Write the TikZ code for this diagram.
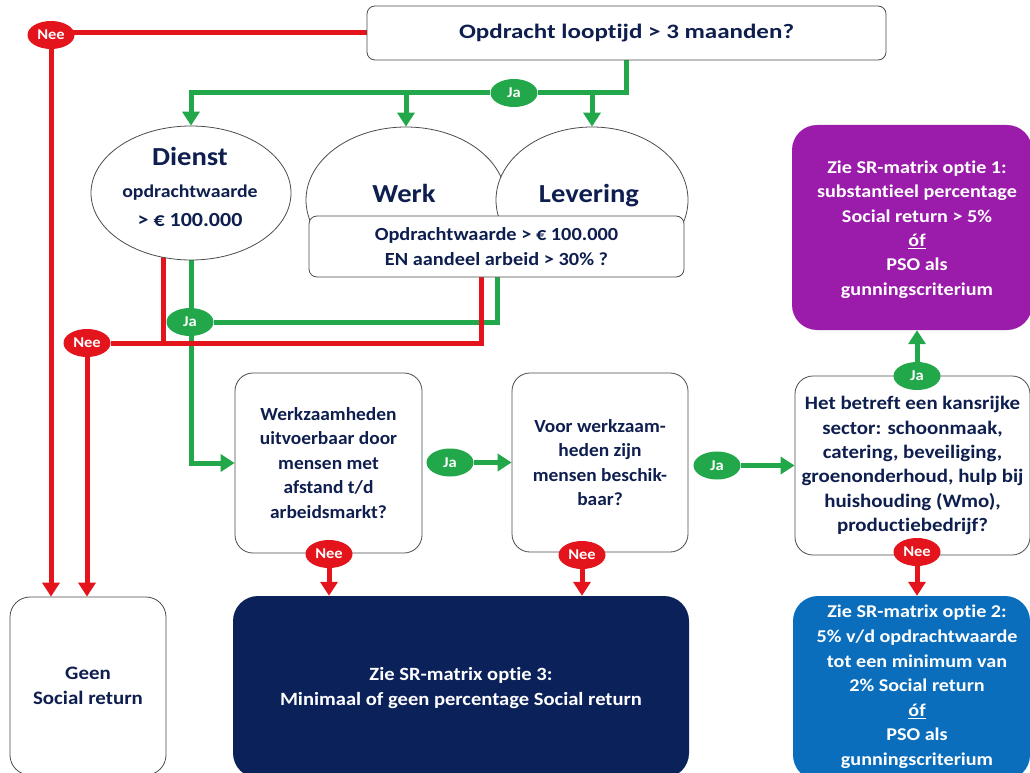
\documentclass[tikz,border=0pt]{standalone}
\usepackage{fontspec}
\setmainfont{Carlito}[FakeStretch=1.1,Ligatures=NoCommon]
\newfontfamily\fA{Carlito}[FakeStretch=1.05,Ligatures=NoCommon]
\newfontfamily\fB{Carlito}[FakeStretch=1.1,Ligatures=NoCommon]
\newfontfamily\fC{Carlito}[FakeStretch=1.12,Ligatures=NoCommon]
\newfontfamily\fD{Carlito}[FakeStretch=1.22,Ligatures=NoCommon]
\usetikzlibrary{arrows.meta,shapes.geometric}
\pgfdeclarelayer{back}
\pgfdeclarelayer{bg}
\pgfsetlayers{back,bg,main}
\definecolor{navytxt}{HTML}{0E1E4E}
\definecolor{navybox}{HTML}{0B2159}
\definecolor{gr}{HTML}{22A84A}
\definecolor{rd}{HTML}{E3141B}
\definecolor{purp}{HTML}{9B1BAA}
\definecolor{blu}{HTML}{0A6EBD}
\begin{document}
\begin{tikzpicture}[x=1pt,y=-1pt,
  >={Triangle[width=17pt,length=14pt]},
  box/.style={draw=black!70, line width=0.8pt, fill=white, rounded corners=#1, align=center, text=navytxt, inner sep=0pt, font=\fB\bfseries\fontsize{19}{24.5}\selectfont},
  box/.default=18pt,
  fbox/.style={fill=#1, rounded corners=25pt, inner sep=0pt},
  ell/.style={ellipse, draw=black!70, line width=0.8pt, fill=white, inner sep=0pt},
  txt/.style={text=navytxt, align=center, inner sep=0pt},
  wtxt/.style={text=white, align=center, inner sep=0pt},
  ja/.style={ellipse, fill=gr, text=white, minimum width=47pt, minimum height=28pt, inner sep=0pt, font=\fB\bfseries\fontsize{15}{15}\selectfont},
  nee/.style={ja, fill=rd},
  gl/.style={draw=gr, line width=5pt},
  rl/.style={draw=rd, line width=5pt}]
\clip (0,0) rectangle (1030,773);
\begin{pgfonlayer}{back}
\fill[white] (0,0) rectangle (1030,773);
\end{pgfonlayer}

% boxes
\node[box=8pt, minimum width=519pt, minimum height=54pt, font=\fD\bfseries\fontsize{20.5}{24}\selectfont] (top) at (626.5,33) {Opdracht looptijd > 3 maanden?};

\node[ell, minimum width=200pt, minimum height=134pt] (dienst) at (191,193) {};
\node[txt, font=\fB\bfseries\fontsize{26}{26}\selectfont] (dienstT) at (190,156) {Dienst};
\node[txt, font=\fB\bfseries\fontsize{18}{18}\selectfont] (dienstW) at (190,193) {opdrachtwaarde};
\node[txt, font=\fB\bfseries\fontsize{20}{20}\selectfont] (dienstV) at (190,220) {> € 100.000};

\node[ell, minimum width=200pt, minimum height=146pt] (werk) at (406,200) {};
\node[ell, minimum width=192pt, minimum height=146pt] (lev) at (592,200) {};
\node[txt, anchor=base, font=\fB\bfseries\fontsize{26}{26}\selectfont] (werkT) at (404,202) {Werk};
\node[txt, anchor=base, font=\fB\bfseries\fontsize{26}{26}\selectfont] (levT) at (589,202) {Levering};

\node[box=8pt, minimum width=375pt, minimum height=61pt, font=\fB\bfseries\fontsize{18.5}{25}\selectfont] (opd) at (496.5,246.5) {Opdrachtwaarde > € 100.000\\EN aandeel arbeid > 30\% ?};

\node[box, minimum width=187pt, minimum height=180pt, font=\fA\bfseries\fontsize{18.5}{24.5}\selectfont] (werkz) at (328.5,463) {Werkzaamheden\\uitvoerbaar door\\mensen met\\afstand t/d\\arbeidsmarkt?};
\node[box, minimum width=176pt, minimum height=179pt, font=\fA\bfseries\fontsize{18.5}{24.5}\selectfont] (voor) at (600,462.5) {Voor werkzaam-\\heden zijn\\mensen beschik-\\baar?};
\node[box, minimum width=235pt, minimum height=179pt, font=\fB\bfseries\fontsize{19}{24.3}\selectfont] (kans) at (912.5,465.5) {Het betreft een kansrijke\\sector: schoonmaak,\\catering, beveiliging,\\groenonderhoud, hulp bij\\huishouding (Wmo),\\productiebedrijf?};

\node[fbox=purp, minimum width=240pt, minimum height=205pt] (purple) at (912,227.5) {};
\node[wtxt, font=\fC\bfseries\fontsize{18}{24.3}\selectfont] (purpleT) at (917,229.5) {Zie SR-matrix optie 1:\\substantieel percentage\\Social return > 5\%\\\underline{óf}\\PSO als\\gunningscriterium};

\node[fbox=blu, minimum width=237pt, minimum height=184pt] (blue) at (911.5,688) {};
\node[wtxt, font=\fC\bfseries\fontsize{18}{24.6}\selectfont] (blueT) at (917,687) {Zie SR-matrix optie 2:\\5\% v/d opdrachtwaarde\\tot een minimum van\\2\% Social return\\\underline{óf}\\PSO als\\gunningscriterium};

\node[fbox=navybox, minimum width=456pt, minimum height=182pt] (navy) at (461,687) {};
\node[wtxt, font=\fB\bfseries\fontsize{18.7}{25}\selectfont] (navyT) at (461,688) {Zie SR-matrix optie 3:\\Minimaal of geen percentage Social return};

\node[box=20pt, minimum width=156pt, minimum height=178pt] (geen) at (88,686) {Geen\\Social return};

% labels
\node[nee] (nee1) at (51,35) {Nee};
\node[ja] (ja1) at (514,93) {Ja};
\node[ja] (ja2) at (190,322) {Ja};
\node[nee] (nee2) at (87,343) {Nee};
\node[ja] (ja3) at (450,462.5) {Ja};
\node[ja] (ja4) at (717,465.5) {Ja};
\node[ja] (ja5) at (917,376) {Ja};
\node[nee] (nee3) at (329,554) {Nee};
\node[nee] (nee4) at (582,555) {Nee};
\node[nee] (nee5) at (917,552) {Nee};

\begin{pgfonlayer}{bg}
\draw[gl] (top.south) |- (ja1);
\draw[gl,->] (ja1) -| (dienst.north);
\draw[gl,->] (werk.north |- ja1) -- (werk.north);
\draw[gl,->] (lev.north |- ja1) -- (lev.north);
\draw[gl,->] (dienst.center) |- (werkz.west);
\draw[gl] ([xshift=0.5pt]opd.center) |- (ja2);
\draw[rl] (top.west) -- (top.west -| nee1);
\draw[rl,->] (nee1) -- (nee1 |- geen.north);
\draw[rl] ([xshift=-28pt]dienst.center) |- (nee2);
\draw[rl] ([xshift=-15.5pt]opd.center) |- (nee2);
\draw[rl,->] (nee2) -- (nee2 |- geen.north);
\draw[gl,->] (ja3) -- (ja3 -| voor.west);
\draw[gl,->] (ja4) -- (ja4 -| kans.west);
\draw[gl,->] (ja5) -- (ja5 |- purple.south);
\draw[rl,->] (nee3) -- (nee3 |- navy.north);
\draw[rl,->] (nee4) -- (nee4 |- navy.north);
\draw[rl,->] (nee5) -- (nee5 |- blue.north);
\end{pgfonlayer}
\end{tikzpicture}
\end{document}
